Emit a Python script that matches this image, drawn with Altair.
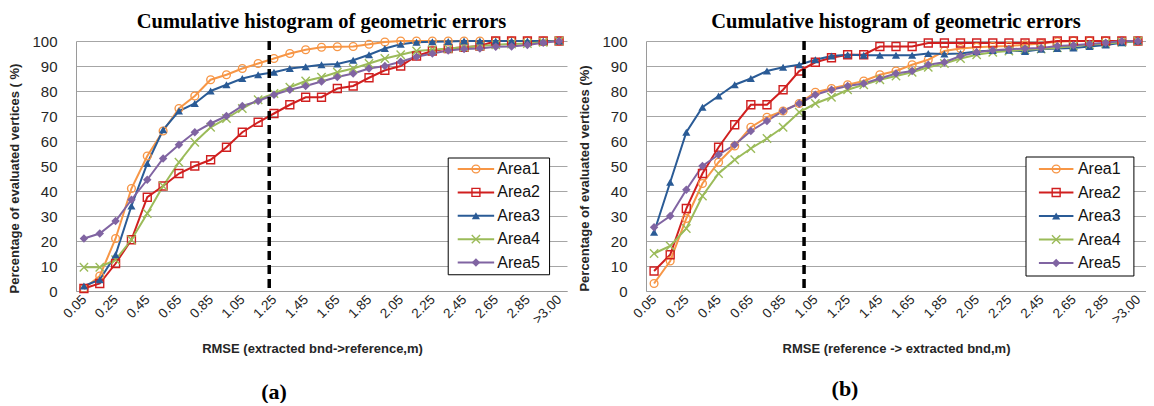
import altair as alt
import pandas as pd

# ---------------- data ----------------
x_labels = ["0.05", "0.15", "0.25", "0.35", "0.45", "0.55", "0.65", "0.75", "0.85", "0.95",
            "1.05", "1.15", "1.25", "1.35", "1.45", "1.55", "1.65", "1.75", "1.85", "1.95",
            "2.05", "2.15", "2.25", "2.35", "2.45", "2.55", "2.65", "2.75", "2.85", "2.95", ">3.00"]
shown_ticks = [0, 2, 4, 6, 8, 10, 12, 14, 16, 18, 20, 22, 24, 26, 28, 30]

series_names = ["Area1", "Area2", "Area3", "Area4", "Area5"]
series_colors = ["#F79646", "#D01F1F", "#2A5B96", "#9BBB59", "#8064A2"]
series_shapes = ["circle", "square", "triangle-up", "M-1,-1L1,1M-1,1L1,-1", "diamond"]
series_sizes = [60, 72, 30, 30, 22]
series_widths = [2, 2, 2.2, 3.5, 2.2]
open_series = ["Area1", "Area2", "Area4"]
filled_series = ["Area3", "Area5"]

# panel (a): extracted bnd -> reference
a_area1 = [1, 6, 21, 41, 54, 64, 73, 78, 84.5, 86.5, 89, 91, 93, 95, 96.5, 97.5, 97.7, 97.8, 98.7, 99.6,
           100, 100, 100, 100, 100, 100, 100, 100, 100, 100, 100]
a_area2 = [1, 3, 11, 20.5, 37.5, 42, 47, 50, 52.5, 57.5, 63.5, 67.5, 71, 74.5, 77.5, 77.5, 81, 82, 85.3, 88.3,
           90, 94, 96, 97, 97.5, 98, 100, 100, 100, 100, 100]
a_area3 = [2, 4.5, 14.5, 34, 51, 64.5, 72, 75, 80, 82.5, 85, 86.5, 87.5, 89, 89.7, 90.5, 90.8, 92.3, 94.5, 97,
           98.7, 99.5, 99.7, 99.8, 100, 100, 100, 100, 100, 100, 100]
a_area4 = [9.5, 9.5, 12.5, 20.5, 31, 42, 51.5, 59.5, 65.5, 69, 73, 76.5, 79, 81.5, 84, 85.5, 87.5, 89, 91, 93,
           94.5, 96, 96.5, 97, 97.5, 98, 98.5, 98.8, 99, 99.5, 100]
a_area5 = [21, 23, 28, 36.5, 44.5, 53, 58.5, 63.5, 67, 70, 74, 76, 78.5, 80.5, 82, 83.8, 85.6, 87, 89, 90,
           91.7, 93.7, 95, 96.2, 96.8, 97, 97.7, 97.8, 98.4, 99.3, 100]

# panel (b): reference -> extracted bnd
b_area1 = [3, 12, 29, 43, 51.5, 58, 65.5, 69.5, 72, 75, 79.5, 81, 82.5, 84, 86.5, 88, 90.5, 92.5, 96, 97,
           97.5, 97.8, 98, 98.5, 99, 99.7, 100, 100, 100, 100, 100]
b_area2 = [8, 14.5, 33, 47, 57.5, 66.5, 74.5, 74.5, 80.5, 88, 91.5, 93.3, 94.5, 94.5, 97.8, 97.8, 97.8, 99.2, 99.2, 99.2,
           99.2, 99.2, 99.2, 99.2, 99.2, 100, 100, 100, 100, 100, 100]
b_area3 = [23.5, 43.5, 63.5, 73.5, 78, 82.5, 85, 88, 89.5, 90.5, 92.5, 94, 94.5, 94.3, 94.3, 94.3, 94.3, 95, 94.8, 95,
           95.8, 96.2, 96.3, 95.8, 96.7, 97, 97.2, 97.8, 98.4, 99.3, 100]
b_area4 = [15, 18, 25, 38, 47, 52.5, 57, 61, 65.5, 71.5, 75, 77.5, 80.5, 82.5, 84.5, 86, 87.5, 89.5, 91, 93,
           94.5, 95.5, 96, 96.5, 96.8, 97.3, 98, 98.5, 99, 99.5, 100]
b_area5 = [25.5, 30, 40.5, 50, 54.5, 58.5, 64, 68, 72, 75, 78.5, 80.5, 82, 83, 85, 87, 88, 90.5, 91.5, 94,
           95.5, 96.3, 96.7, 97, 97.2, 98, 98.3, 98.8, 99.3, 100, 100]

label_expr = "[" + ",".join("'%s'" % s for s in x_labels) + "][datum.value]"

SANS = "Liberation Sans"
SERIF = "Liberation Serif"


def long_df(cols):
    rows = []
    for name, vals in zip(series_names, cols):
        for i, v in enumerate(vals):
            rows.append({"idx": i, "series": name, "value": v})
    return pd.DataFrame(rows)


color_enc = alt.Color("series:N", scale=alt.Scale(domain=series_names, range=series_colors), legend=None)
shape_enc = alt.Shape("series:N", scale=alt.Scale(domain=series_names, range=series_shapes), legend=None)
size_enc = alt.Size("series:N", scale=alt.Scale(domain=series_names, range=series_sizes), legend=None)
sw_enc = alt.StrokeWidth("series:N", scale=alt.Scale(domain=series_names, range=series_widths), legend=None)


def panel(cols, dash_at, ytitle, xtitle, tag, width, height, xtitle_x, ytitle_y, leg, tag_xy):
    df = long_df(cols)
    x = alt.X("idx:Q", scale=alt.Scale(domain=[-0.5, 30.5], nice=False, zero=False),
              axis=alt.Axis(values=shown_ticks, labelExpr=label_expr, labelAngle=-45,
                            labelAlign="right", labelBaseline="middle", labelOverlap=False,
                            title=xtitle, grid=False, ticks=False, labelPadding=6, titlePadding=17,
                            titleX=xtitle_x, labelFontSize=13.5, labelFont=SANS, labelColor="#262626",
                            titleFont=SANS, titleFontSize=13, titleFontWeight="bold", titleColor="#262626",
                            domainColor="#9a9a9a"))
    y = alt.Y("value:Q", scale=alt.Scale(domain=[0, 100], nice=False, zero=True),
              axis=alt.Axis(values=list(range(0, 101, 10)), title=ytitle, grid=True, ticks=False,
                            labelOverlap=False, labelPadding=19, titlePadding=10, titleY=ytitle_y,
                            labelFontSize=15, labelFont=SANS, labelColor="#262626",
                            titleFont=SANS, titleFontSize=13, titleFontWeight="bold", titleColor="#262626",
                            gridColor="#a6a6a6", gridWidth=1, domainColor="#9a9a9a"))
    base = alt.Chart(df)
    lines = base.mark_line().encode(x=x, y=y, color=color_enc, strokeWidth=sw_enc, detail="series:N")
    pts_open = base.transform_filter(alt.FieldOneOfPredicate(field="series", oneOf=open_series)).mark_point(
        filled=False, opacity=1, strokeWidth=1.4).encode(x=x, y=y, color=color_enc,
                                                         shape=shape_enc, size=size_enc)
    pts_fill = base.transform_filter(alt.FieldOneOfPredicate(field="series", oneOf=filled_series)).mark_point(
        filled=True, opacity=1).encode(x=x, y=y, color=color_enc, shape=shape_enc, size=size_enc)
    dash = alt.Chart(pd.DataFrame({"idx": [dash_at]})).mark_rule(
        color="black", strokeWidth=3.5, strokeDash=[9, 5]).encode(x=x)

    # legend (box, line samples, markers, labels) in data coordinates
    bx1, bx2, by1, by2, lx1, lx2, tx, y0, dy = leg
    rows_y = [y0 - dy * k for k in range(5)]
    box = alt.Chart(pd.DataFrame({"idx": [bx1], "idx2": [bx2], "value": [by1], "value2": [by2]})).mark_rect(
        fill="white", stroke="black", strokeWidth=1).encode(x=x, x2="idx2:Q", y=y, y2="value2:Q")
    line_df = pd.DataFrame({"series": series_names, "idx": [lx1] * 5, "idx2": [lx2] * 5, "value": rows_y})
    mark_df = pd.DataFrame({"series": series_names, "idx": [(lx1 + lx2) / 2] * 5, "value": rows_y})
    text_df = pd.DataFrame({"series": series_names, "idx": [tx] * 5, "value": rows_y})
    lline = alt.Chart(line_df).mark_rule().encode(x=x, x2="idx2:Q", y=y, color=color_enc, strokeWidth=sw_enc)
    lpo = alt.Chart(mark_df).transform_filter(
        alt.FieldOneOfPredicate(field="series", oneOf=open_series)).mark_point(
        filled=False, opacity=1, strokeWidth=1.4).encode(x=x, y=y, color=color_enc, shape=shape_enc,
                                                         size=size_enc)
    lpf = alt.Chart(mark_df).transform_filter(
        alt.FieldOneOfPredicate(field="series", oneOf=filled_series)).mark_point(
        filled=True, opacity=1).encode(x=x, y=y, color=color_enc, shape=shape_enc, size=size_enc)
    ltext = alt.Chart(text_df).mark_text(align="left", baseline="middle", font=SANS, fontSize=16,
                                         color="#111111").encode(x=x, y=y, text="series:N")

    tag_txt = alt.Chart(pd.DataFrame({"t": [tag]})).mark_text(
        font=SERIF, fontSize=22, fontWeight="bold", color="black").encode(
        text="t:N", x=alt.value(tag_xy[0]), y=alt.value(tag_xy[1]))

    return alt.layer(lines, pts_open, pts_fill, dash, box, lline, lpo, lpf, ltext, tag_txt).properties(
        width=width, height=height,
        title=alt.TitleParams("Cumulative histogram of geometric errors", font=SERIF, fontSize=20.5,
                              fontWeight="bold", color="black", anchor="middle", offset=2))


pa = panel([a_area1, a_area2, a_area3, a_area4, a_area5], 11.7,
           "Percentage of evaluated vertices ( %)", "RMSE (extracted bnd->reference,m)", "(a)",
           491, 250, 236, 137,
           (23.0, 29.4, 53.2, 6.5, 23.6, 25.9, 26.1, 48.8, 9.35), (198, 351))
pb = panel([b_area1, b_area2, b_area3, b_area4, b_area5], 9.3,
           "Percentage of evaluated vertices (%)", "RMSE (reference -> extracted bnd,m)", "(b)",
           500, 250, 250, 137,
           (23.06, 29.75, 53.6, 6.0, 23.86, 26.0, 26.28, 48.8, 9.4), (199, 348))

chart = alt.hconcat(pa, pb, spacing=11).properties(
    padding={"left": 0, "top": 3, "right": 0, "bottom": 0}
).configure_view(stroke=None)

chart.save("out.html", embed_options={"renderer": "svg", "actions": False})
